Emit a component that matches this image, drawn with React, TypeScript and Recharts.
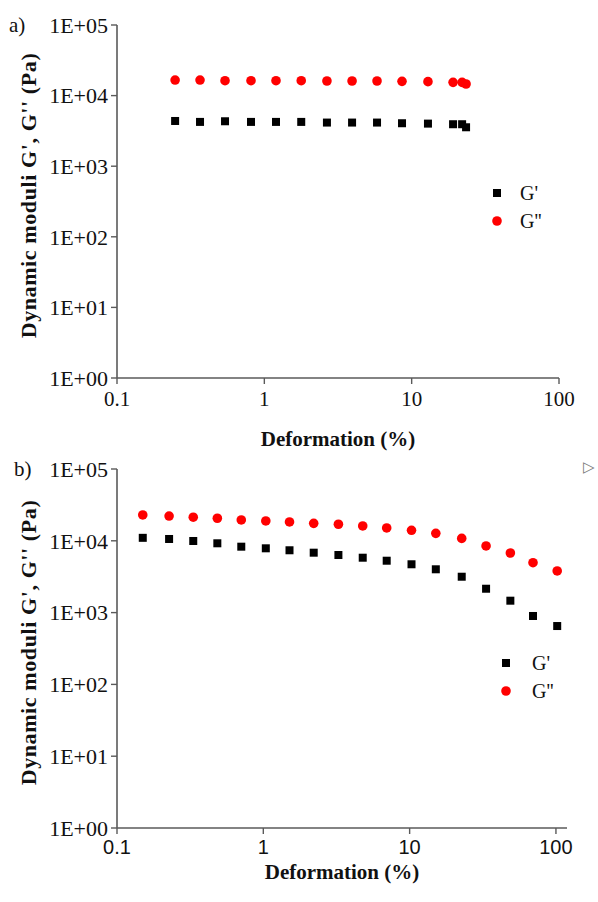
import React from "react";
import { ScatterChart, Scatter, XAxis, YAxis, Legend, Label } from "recharts";

// ---- Data ----
const xTicks = [0.1, 1, 10, 100];
const xTickLabels = ["0.1", "1", "10", "100"];
const yTicks = [1, 10, 100, 1000, 10000, 100000];
const yTickLabels = ["1E+00", "1E+01", "1E+02", "1E+03", "1E+04", "1E+05"];
const seriesNames = ["G'", "G''"];

// panel a)
const strainA = [0.248, 0.366, 0.541, 0.812, 1.2, 1.78, 2.66, 3.94, 5.82, 8.6, 12.9, 19.1, 22.0, 23.4];
const gPrimeA = [4370, 4240, 4330, 4240, 4240, 4240, 4150, 4150, 4150, 4060, 4010, 3930, 3930, 3560];
const gDoublePrimeA = [16600, 16600, 16250, 16250, 16250, 16250, 16100, 16100, 16100, 15920, 15750, 15400, 15400, 14600];

// panel b)
const strainB = [0.15, 0.227, 0.332, 0.485, 0.707, 1.04, 1.51, 2.21, 3.26, 4.78, 6.97, 10.3, 15.1, 22.7, 33.3, 48.8, 69.7, 102];
const gPrimeB = [11000, 10600, 9940, 9230, 8280, 7860, 7380, 6830, 6340, 5815, 5280, 4710, 4010, 3160, 2150, 1465, 897, 650];
const gDoublePrimeB = [22900, 22100, 21300, 20600, 19500, 18900, 18300, 17500, 17000, 16100, 15100, 14000, 12700, 10800, 8470, 6760, 4950, 3800];

const AXIS = "#5a5a5a";
const SERIF = "'Liberation Serif', 'Times New Roman', serif";
const SANS = "'Liberation Sans', Arial, sans-serif";

const toRows = (xs: number[], ys: number[]) => xs.map((x, i) => ({ x, y: ys[i] }));

const SquareShape = (p: any) => (
  <rect x={p.cx - 4} y={p.cy - 4} width={8} height={8} fill="#000000" />
);
const DotShape = (p: any) => <circle cx={p.cx} cy={p.cy} r={4.8} fill="#ff0000" />;

const fmtX = (v: number) => xTickLabels[xTicks.indexOf(v)] ?? String(v);
const fmtY = (v: number) => yTickLabels[yTicks.indexOf(v)] ?? String(v);

type PanelProps = {
  tag: string;
  top: number;
  xs: number[];
  g1: number[];
  g2: number[];
  xMax: number;
  marginTop: number;
  marginRight: number;
  xAxisHeight: number;
  xTickFont: string;
  xTickSize: number;
  xTickMargin: number;
  xTitleBaseline: number;
  legendLeft: number;
  legendTop: number;
  legendGap: number;
};

const Panel = (props: PanelProps) => {
  const d1 = toRows(props.xs, props.g1);
  const d2 = toRows(props.xs, props.g2);

  const yTitle = (lp: any) => {
    const vb = lp.viewBox || {};
    const cy = vb.y + vb.height / 2 - 6;
    return (
      <g>
        <text
          x={36}
          y={cy}
          transform={`rotate(-90, 36, ${cy})`}
          textAnchor="middle"
          fontFamily={SERIF}
          fontWeight="bold"
          fontSize={22}
          letterSpacing={0.6}
          fill="#111"
        >
          Dynamic moduli G', G'' (Pa)
        </text>
        <text x={props.tag === "a)" ? 9 : 14} y={props.marginTop + 7} fontFamily={SERIF} fontSize={21} fill="#111">
          {props.tag}
        </text>
      </g>
    );
  };

  const xTitle = (lp: any) => {
    const vb = lp.viewBox || {};
    return (
      <text
        x={vb.x + vb.width / 2}
        y={props.xTitleBaseline}
        textAnchor="middle"
        fontFamily={SERIF}
        fontWeight="bold"
        fontSize={21}
        fill="#111"
      >
        Deformation (%)
      </text>
    );
  };

  const legendContent = (lp: any) => {
    const items = lp.payload || [];
    return (
      <div style={{ fontFamily: SERIF, fontSize: 20, color: "#111" }}>
        {items.map((it: any, i: number) => (
          <div key={i} style={{ display: "flex", alignItems: "center", height: 28 }}>
            <svg width={20} height={20} style={{ flex: "none" }}>
              {it.value === seriesNames[0] ? (
                <rect x={6} y={6} width={8} height={8} fill={it.color} />
              ) : (
                <circle cx={10} cy={10} r={4.8} fill={it.color} />
              )}
            </svg>
            <span style={{ marginLeft: props.legendGap, lineHeight: "28px" }}>{it.value}</span>
          </div>
        ))}
      </div>
    );
  };

  return (
    <div style={{ position: "absolute", left: 0, top: props.top, width: 598, height: 451 }}>
      <ScatterChart
        width={598}
        height={451}
        margin={{ top: props.marginTop, right: props.marginRight, left: 0, bottom: 0 }}
      >
        <XAxis
          xAxisId={0}
          type="number"
          dataKey="x"
          scale="log"
          domain={[0.1, props.xMax]}
          ticks={xTicks}
          allowDataOverflow
          tickFormatter={fmtX}
          height={props.xAxisHeight}
          axisLine={{ stroke: AXIS, strokeWidth: 1.6 }}
          tickLine={{ stroke: AXIS, strokeWidth: 1.4 }}
          tickSize={6}
          tickMargin={props.xTickMargin}
          tick={{ fill: "#111", fontFamily: props.xTickFont, fontSize: props.xTickSize }}
          interval={0}
          label={<Label content={xTitle} />}
        />
        <XAxis
          xAxisId="top"
          orientation="top"
          type="number"
          domain={[0, 1]}
          height={0}
          tick={false}
          tickLine={false}
          axisLine={{ stroke: AXIS, strokeWidth: 1.6 }}
        />
        <YAxis
          yAxisId={0}
          type="number"
          dataKey="y"
          scale="log"
          domain={[1, 100000]}
          ticks={yTicks}
          allowDataOverflow
          tickFormatter={fmtY}
          width={117}
          axisLine={{ stroke: AXIS, strokeWidth: 1.6 }}
          tickLine={{ stroke: AXIS, strokeWidth: 1.4 }}
          tickSize={6}
          tickMargin={3}
          tick={{ fill: "#111", fontFamily: SERIF, fontSize: 22 }}
          interval={0}
          label={<Label content={yTitle} />}
        />
        <YAxis
          yAxisId="right"
          orientation="right"
          type="number"
          domain={[0, 1]}
          width={0}
          tick={false}
          tickLine={false}
          axisLine={{ stroke: AXIS, strokeWidth: 1.6 }}
        />
        <Legend
          layout="vertical"
          align="center"
          verticalAlign="middle"
          content={legendContent}
          wrapperStyle={{ left: props.legendLeft, top: props.legendTop, width: 90 }}
        />
        <Scatter
          name={seriesNames[0]}
          data={d1}
          xAxisId={0}
          yAxisId={0}
          fill="#000000"
          shape={SquareShape}
          isAnimationActive={false}
        />
        <Scatter
          name={seriesNames[1]}
          data={d2}
          xAxisId={0}
          yAxisId={0}
          fill="#ff0000"
          shape={DotShape}
          isAnimationActive={false}
        />
      </ScatterChart>
    </div>
  );
}

export default function App() {
  return (
    <div
      style={{
        position: "absolute",
        left: 0,
        top: 0,
        width: 598,
        height: 902,
        background: "#ffffff",
        overflow: "hidden",
      }}
    >
      <Panel
        tag="a)"
        top={0}
        xs={strainA}
        g1={gPrimeA}
        g2={gDoublePrimeA}
        xMax={100}
        marginTop={25}
        marginRight={39}
        xAxisHeight={73}
        xTickFont={SERIF}
        xTickSize={21}
        xTickMargin={7}
        xTitleBaseline={446}
        legendLeft={487}
        legendTop={179}
        legendGap={13}
      />
      <Panel
        tag="b)"
        top={451}
        xs={strainB}
        g1={gPrimeB}
        g2={gDoublePrimeB}
        xMax={119}
        marginTop={18}
        marginRight={31}
        xAxisHeight={74}
        xTickFont={SANS}
        xTickSize={20}
        xTickMargin={6}
        xTitleBaseline={428}
        legendLeft={496}
        legendTop={198}
        legendGap={16}
      />
      <div
        style={{
          position: "absolute",
          left: 583,
          top: 457,
          fontSize: 15,
          color: "#777",
          fontFamily: "'DejaVu Sans', sans-serif",
          lineHeight: "20px",
        }}
      >
        ▷
      </div>
    </div>
  );
}
